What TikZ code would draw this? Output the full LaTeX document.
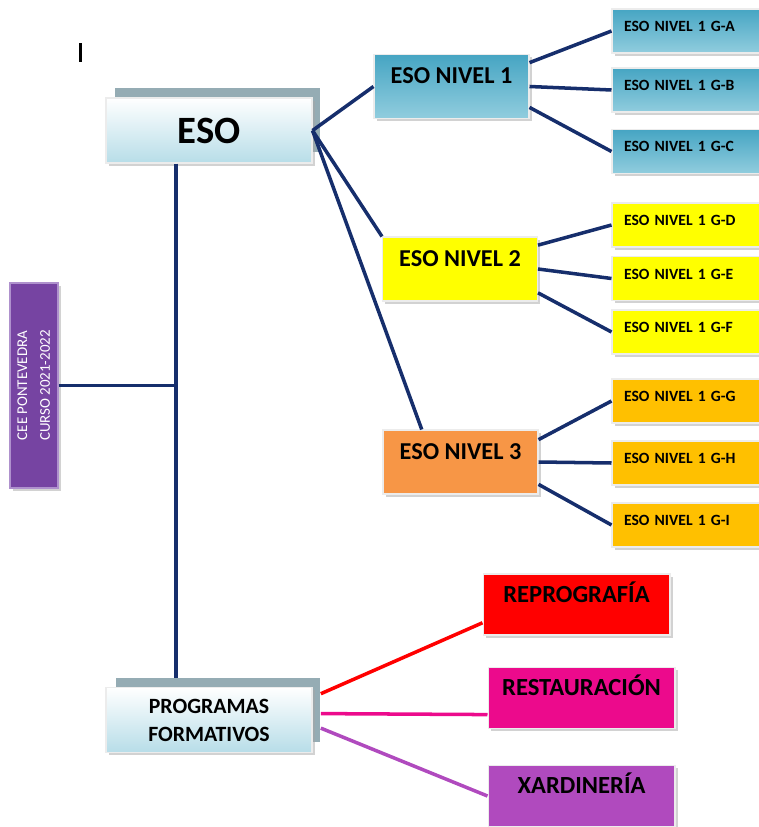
\documentclass[tikz,border=0pt]{standalone}
\usepackage{fontspec}
\setmainfont{Carlito}
\usepackage{graphicx}
\usetikzlibrary{shadows}

\definecolor{navy}{RGB}{22,46,108}
\definecolor{esoazul}{RGB}{183,221,232}
\definecolor{gris}{RGB}{149,172,180}
\definecolor{teal1}{RGB}{70,165,195}
\definecolor{teal2}{RGB}{145,205,222}
\definecolor{amarelo}{RGB}{255,255,0}
\definecolor{laranxa}{RGB}{247,150,70}
\definecolor{ouro}{RGB}{255,192,0}
\definecolor{vermello}{RGB}{255,0,0}
\definecolor{rosa}{RGB}{236,10,140}
\definecolor{morado}{RGB}{176,74,190}
\definecolor{ceemorado}{RGB}{118,68,162}
\definecolor{ceeborde}{RGB}{175,145,205}

\begin{document}
\begin{tikzpicture}[x=0.02cm,y=-0.02cm]
  \tikzstyle{caja}=[draw=white!85!gray,line width=0.6pt,inner sep=0pt,drop shadow={shadow xshift=1.5pt,shadow yshift=-1.5pt,fill=black!35}]
  \tikzstyle{fondo}=[fill=gris,minimum width=4.1cm,minimum height=1.28cm]
  \tikzstyle{esobox}=[caja,minimum width=4.12cm,minimum height=1.3cm,top color=white,bottom color=esoazul,font=\fontsize{22pt}{24pt}\selectfont\bfseries]
  \tikzstyle{nivel}=[caja,minimum width=3.1cm,text height=0.58cm,text depth=0.7cm,font=\fontsize{13.8pt}{15pt}\selectfont\bfseries]
  \tikzstyle{grupo}=[caja,text width=2.52cm,inner xsep=0.24cm,text height=0.45cm,text depth=0.43cm,font=\fontsize{8.9pt}{10pt}\selectfont\bfseries]
  \tikzstyle{prog}=[caja,minimum width=3.74cm,text height=0.56cm,text depth=0.66cm,font=\fontsize{14pt}{16pt}\selectfont\bfseries]
  \tikzstyle{enlace}=[navy,line width=2pt]
  \useasboundingbox (0,0) rectangle (758,827);
  \fill (79,43) rectangle (81.5,62);
  % centro
  \node[caja,fill=ceemorado,draw=ceeborde,line width=1pt,minimum width=0.96cm,minimum height=4.1cm,text=white,font=\fontsize{8.5pt}{13pt}\selectfont] (cee) at (34,385.5) {\rotatebox{90}{\begin{tabular}{@{}c@{}}CEE PONTEVEDRA\\CURSO 2021-2022\end{tabular}}};
  \node[fondo] (esofondo) at (217.5,120) {};
  \node[esobox] (eso) at (209,130.5) {ESO};
  \node[fondo] (pffondo) at (218,710) {};
  \node[esobox,align=center,font=\fontsize{12.4pt}{16pt}\selectfont\bfseries] (pf) at (209,720) {PROGRAMAS\\FORMATIVOS};
  % niveis
  \node[nivel,top color=teal1,bottom color=teal2] (n1) at (451.5,86.5) {ESO NIVEL 1};
  \node[nivel,fill=amarelo] (n2) at (460,269) {ESO NIVEL 2};
  \node[nivel,fill=laranxa] (n3) at (460.5,462) {ESO NIVEL 3};
  % grupos
  \node[grupo,top color=teal1,bottom color=teal2] (gA) at (687,31) {ESO NIVEL 1 G-A};
  \node[grupo,top color=teal1,bottom color=teal2] (gB) at (687,90) {ESO NIVEL 1 G-B};
  \node[grupo,top color=teal1,bottom color=teal2] (gC) at (687,151.5) {ESO NIVEL 1 G-C};
  \node[grupo,fill=amarelo] (gD) at (687,225) {ESO NIVEL 1 G-D};
  \node[grupo,fill=amarelo] (gE) at (687,278.5) {ESO NIVEL 1 G-E};
  \node[grupo,fill=amarelo] (gF) at (687,332) {ESO NIVEL 1 G-F};
  \node[grupo,fill=ouro] (gG) at (687,401) {ESO NIVEL 1 G-G};
  \node[grupo,fill=ouro] (gH) at (687,463) {ESO NIVEL 1 G-H};
  \node[grupo,fill=ouro] (gI) at (687,525) {ESO NIVEL 1 G-I};
  % programas
  \node[prog,fill=vermello] (repro) at (576.5,604.5) {REPROGRAFÍA};
  \node[prog,fill=rosa] (rest) at (581.5,698) {RESTAURACIÓN};
  \node[prog,fill=morado] (xard) at (581.5,796) {XARDINERÍA};
  % liñas
  \draw[enlace] (eso.225) -- (eso.225 |- pffondo.north);
  \draw[enlace] (cee.east) -- (cee.east -| eso.225);
  \draw[enlace] (eso.east) -- (n1.west);
  \draw[enlace] (eso.east) -- (n2.north west);
  \draw[enlace] (eso.east) -- (n3.140);
  \draw[enlace] (n1.17) -- (gA.west);
  \draw[enlace] (n1.east) -- (gB.west);
  \draw[enlace] (n1.-15) -- (gC.west);
  \draw[enlace] (n2.17) -- (gD.west);
  \draw[enlace] (n2.east) -- (gE.west);
  \draw[enlace] (n2.-17) -- (gF.west);
  \draw[enlace] (n3.16) -- (gG.west);
  \draw[enlace] (n3.east) -- (gH.west);
  \draw[enlace] (n3.-16) -- (gI.west);
  \draw[enlace,vermello] (pffondo.9) -- (repro.191);
  \draw[enlace,rosa] (pffondo.-2) -- (rest.190);
  \draw[enlace,morado] (pffondo.-10) -- (xard.west);
\end{tikzpicture}
\end{document}
